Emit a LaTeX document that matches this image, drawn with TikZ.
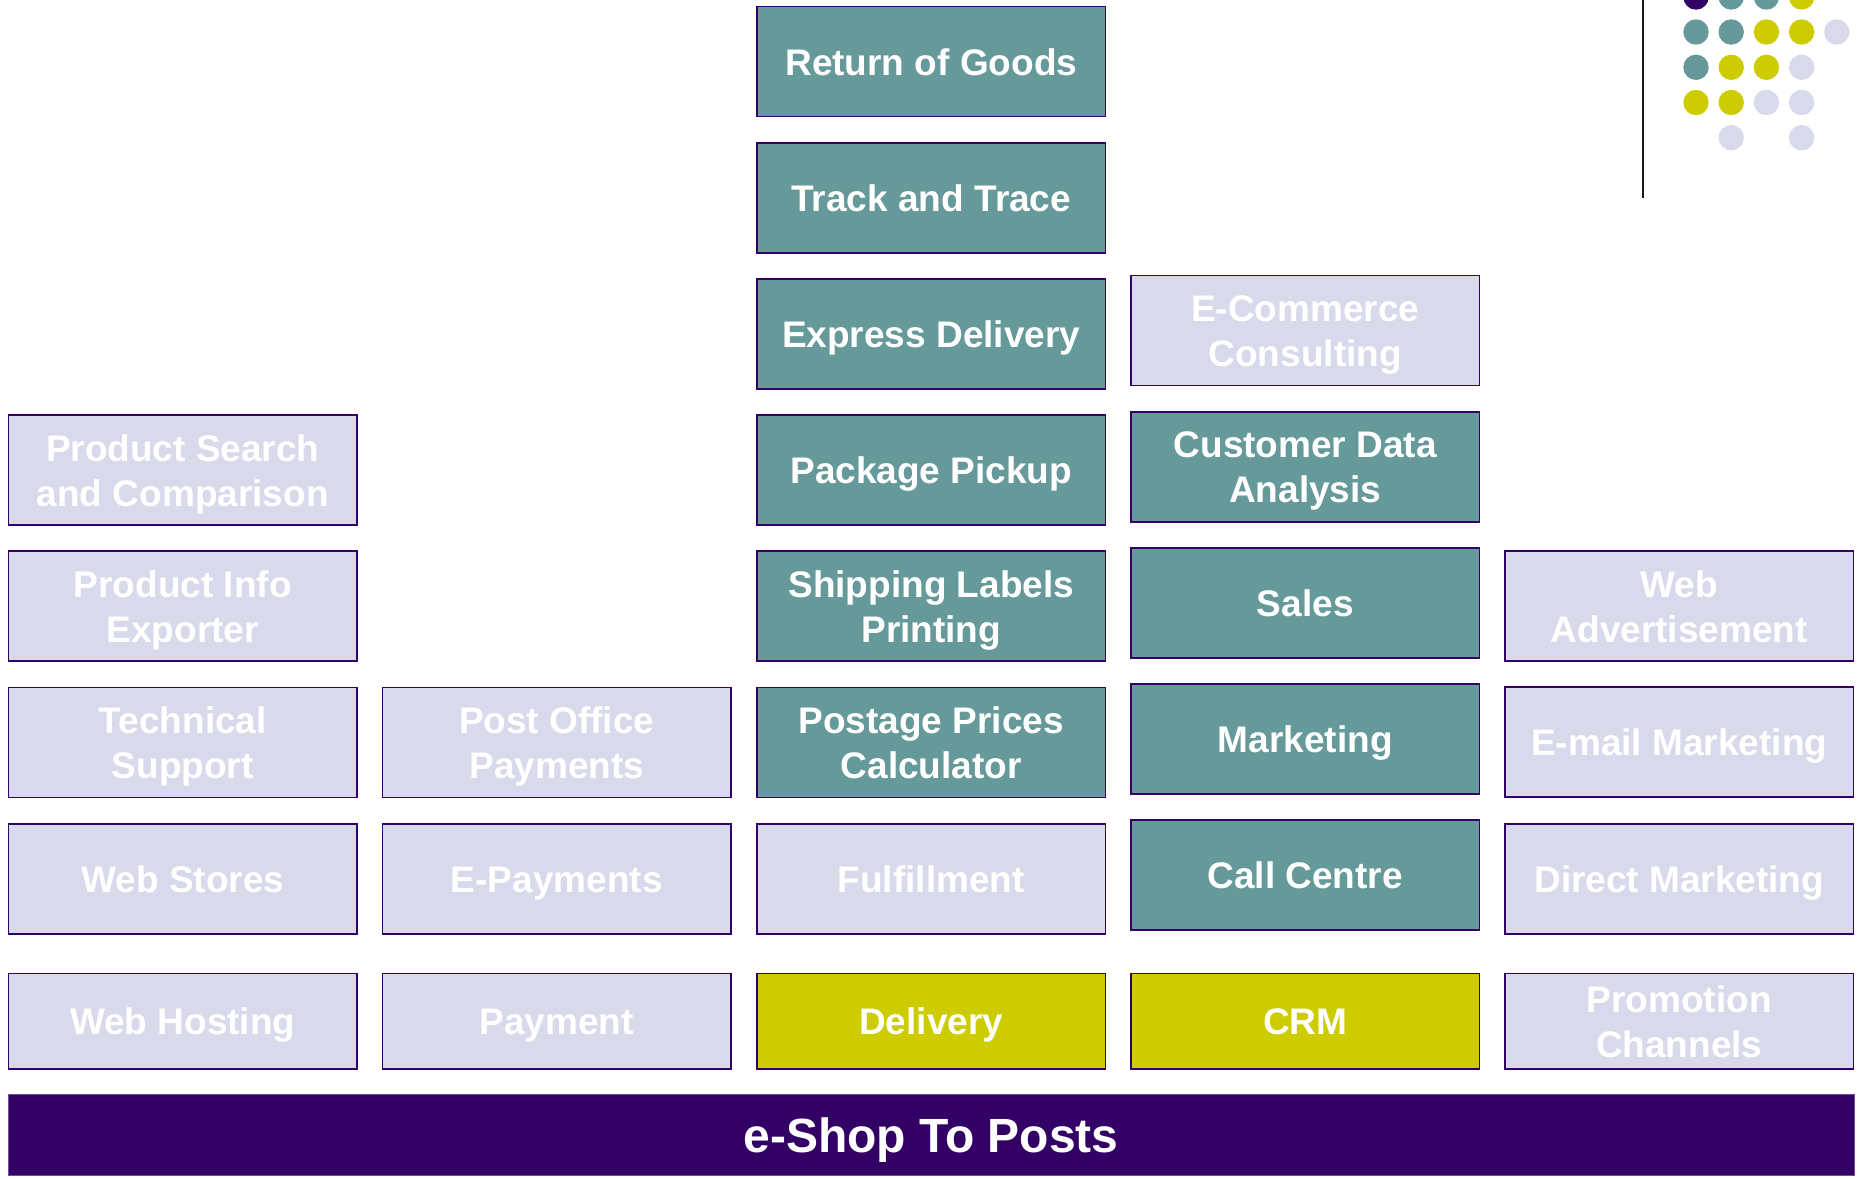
\documentclass[tikz,border=0pt]{standalone}
\usepackage{fontspec}
\setmainfont{Liberation Sans}
\definecolor{teal1}{HTML}{669999}
\definecolor{lav}{HTML}{D9D9EC}
\definecolor{yel}{HTML}{CCCC00}
\definecolor{purp}{HTML}{330066}
\newcommand{\boxstrut}{\rule[-9pt]{0pt}{45pt}}
\newcommand{\barstrut}{\rule[-11pt]{0pt}{56pt}}
\newcommand{\twol}[2]{\boxstrut #1\\\boxstrut #2}
\tikzset{
  box/.style={rectangle, draw=purp, line width=1.8pt, minimum width=348.5pt, minimum height=110pt,
    inner sep=0pt, align=center, text=white, font=\bfseries\fontsize{37}{45}\selectfont},
  tealbox/.style={box, fill=teal1},
  lavbox/.style={box, fill=lav},
  yelbox/.style={box, fill=yel, minimum height=95.5pt},
  lavlow/.style={box, fill=lav, minimum height=95.5pt},
  dotc/.style={circle, inner sep=0pt, minimum size=25.4pt, fill=#1}
}
\begin{document}
\begin{tikzpicture}[x=1pt,y=-1pt]
\useasboundingbox (0,0) rectangle (1857,1178);
\clip (0,0) rectangle (1857,1178);
% column 3
\node[tealbox] (ret) at (931.25,61.5) {\boxstrut Return of Goods};
\node[tealbox] (track) at (931.25,197.7) {\boxstrut Track and Trace};
\node[tealbox] (express) at (931.25,333.9) {\boxstrut Express Delivery};
\node[tealbox] (pickup) at (931.25,470.1) {\boxstrut Package Pickup};
\node[tealbox] (labels) at (931.25,606.3) {\twol{Shipping Labels}{Printing}};
\node[tealbox] (postage) at (931.25,742.5) {\twol{Postage Prices}{Calculator}};
\node[lavbox] (fulfil) at (931.25,878.7) {\boxstrut Fulfillment};
\node[yelbox] (delivery) at (931.25,1021.3) {\boxstrut Delivery};
% column 4
\node[lavbox] (consult) at (1305.25,330.4) {\twol{E-Commerce}{Consulting}};
\node[tealbox] (custdata) at (1305.25,466.6) {\twol{Customer Data}{Analysis}};
\node[tealbox] (sales) at (1305.25,602.8) {\boxstrut Sales};
\node[tealbox] (marketing) at (1305.25,739) {\boxstrut Marketing};
\node[tealbox] (callc) at (1305.25,875.2) {\boxstrut Call Centre};
\node[yelbox] (crm) at (1305.25,1021.3) {\boxstrut CRM};
% column 1
\node[lavbox] (search) at (182.75,470.1) {\twol{Product Search}{and Comparison}};
\node[lavbox] (exporter) at (182.75,606.3) {\twol{Product Info}{Exporter}};
\node[lavbox] (techsup) at (182.75,742.5) {\twol{Technical}{Support}};
\node[lavbox] (webstores) at (182.75,878.7) {\boxstrut Web Stores};
\node[lavlow] (hosting) at (182.75,1021.3) {\boxstrut Web Hosting};
% column 2
\node[lavbox] (pop) at (556.75,742.5) {\twol{Post Office}{Payments}};
\node[lavbox] (epay) at (556.75,878.7) {\boxstrut E-Payments};
\node[lavlow] (payment) at (556.75,1021.3) {\boxstrut Payment};
% column 5
\node[lavbox] (webadv) at (1679.25,606.3) {\twol{Web}{Advertisement}};
\node[lavbox] (email) at (1679.25,741.7) {\boxstrut E-mail Marketing};
\node[lavbox] (direct) at (1679.25,878.7) {\boxstrut Direct Marketing};
\node[lavlow] (promo) at (1679.25,1021.3) {\twol{Promotion}{Channels}};
% bottom bar
\node[rectangle, fill=purp, draw=purp!70, line width=1pt, minimum width=1846pt, minimum height=81pt,
  inner sep=0pt, text=white, font=\bfseries\fontsize{48}{56}\selectfont] (bar) at (931,1135) {\barstrut e-Shop To Posts};
% decoration
\draw[line width=2pt, color=black!90] (1643,0) -- (1643,198);
\node[dotc=purp] (d00) at (1696,-3) {};
\node[dotc=teal1] (d01) at (1731.2,-3) {};
\node[dotc=teal1] (d02) at (1766.4,-3) {};
\node[dotc=yel] (d03) at (1801.6,-3) {};
\node[dotc=teal1] (d10) at (1696,32) {};
\node[dotc=teal1] (d11) at (1731.2,32) {};
\node[dotc=yel] (d12) at (1766.4,32) {};
\node[dotc=yel] (d13) at (1801.6,32) {};
\node[dotc=lav] (d14) at (1836.8,32) {};
\node[dotc=teal1] (d20) at (1696,67.3) {};
\node[dotc=yel] (d21) at (1731.2,67.3) {};
\node[dotc=yel] (d22) at (1766.4,67.3) {};
\node[dotc=lav] (d23) at (1801.6,67.3) {};
\node[dotc=yel] (d30) at (1696,102.5) {};
\node[dotc=yel] (d31) at (1731.2,102.5) {};
\node[dotc=lav] (d32) at (1766.4,102.5) {};
\node[dotc=lav] (d33) at (1801.6,102.5) {};
\node[dotc=lav] (d41) at (1731.2,137.7) {};
\node[dotc=lav] (d43) at (1801.6,137.7) {};
\end{tikzpicture}
\end{document}
